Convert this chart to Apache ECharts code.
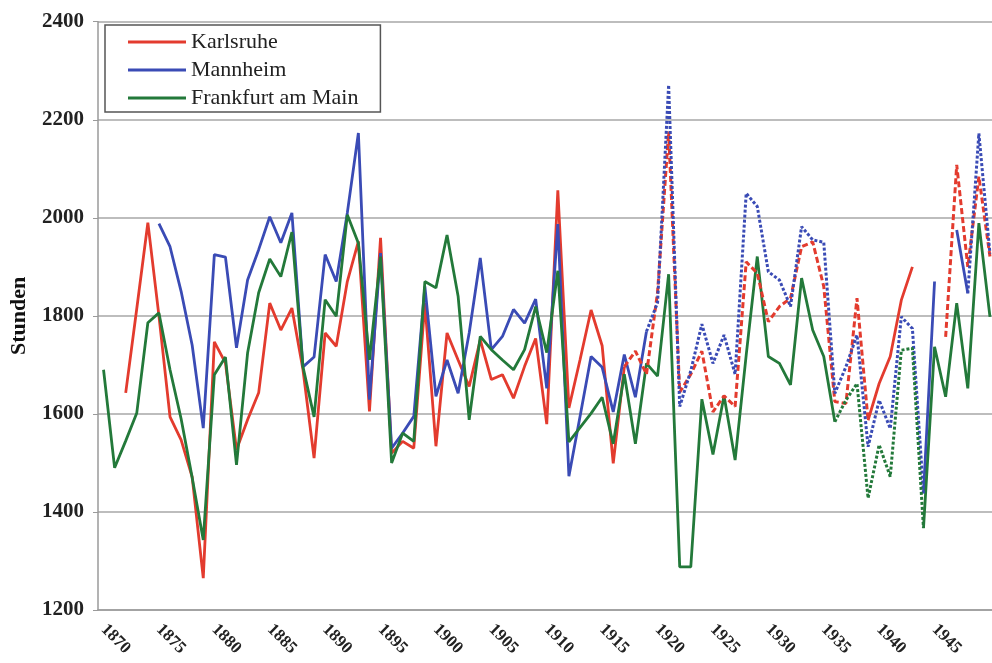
<!DOCTYPE html>
<html><head><meta charset="utf-8">
<script src="https://cdn.jsdelivr.net/npm/echarts@6/dist/echarts.min.js"></script>
<style>html,body{margin:0;padding:0;background:#fff}#c{width:992px;height:663px}</style>
</head><body><div id="c"></div>
<script>
const years = ['1870','1871','1872','1873','1874','1875','1876','1877','1878','1879',
'1880','1881','1882','1883','1884','1885','1886','1887','1888','1889',
'1890','1891','1892','1893','1894','1895','1896','1897','1898','1899',
'1900','1901','1902','1903','1904','1905','1906','1907','1908','1909',
'1910','1911','1912','1913','1914','1915','1916','1917','1918','1919',
'1920','1921','1922','1923','1924','1925','1926','1927','1928','1929',
'1930','1931','1932','1933','1934','1935','1936','1937','1938','1939',
'1940','1941','1942','1943','1944','1945','1946','1947','1948','1949','1950'];

const karlsruhe = [null,null,1643,1815,1990,1800,1594,1547,1471,1265,
1747,1704,1527,1588,1643,1826,1771,1816,1690,1510,
1765,1738,1870,1952,1605,1959,1520,1544,1530,1826,
1534,1765,1710,1656,1751,1670,1680,1632,1697,1754,
1579,2056,1612,1710,1812,1739,1499,1696,1728,1681,
1848,2176,1644,1681,1728,1604,1637,1615,1910,1887,
1788,1819,1836,1941,1951,1860,1625,1621,1836,1587,
1662,1717,1832,1900,null,null,1757,2108,1900,2084,1921];

const mannheim = [null,null,null,null,null,1988,1941,1850,1740,1571,
1925,1920,1735,1873,1935,2002,1949,2010,1696,1716,
1925,1870,2010,2173,1629,1928,1530,1561,1595,1860,
1636,1710,1642,1765,1918,1731,1758,1813,1785,1834,
1652,1987,1473,1594,1717,1695,1604,1721,1634,1768,
1827,2271,1615,1688,1783,1703,1761,1681,2050,2023,
1890,1873,1819,1982,1955,1950,1642,1696,1761,1533,
1628,1570,1798,1774,1438,1870,null,1975,1846,2172,1927];

const frankfurt = [1690,1490,1545,1602,1786,1806,1690,1590,1470,1343,
1680,1716,1496,1724,1847,1916,1880,1971,1696,1594,
1833,1799,2006,1948,1710,1921,1500,1561,1544,1870,
1857,1965,1840,1588,1758,1731,1710,1690,1731,1819,
1725,1892,1543,1572,1601,1634,1539,1681,1539,1703,
1677,1885,1288,1288,1630,1517,1637,1506,1720,1921,
1717,1703,1659,1877,1771,1717,1584,1628,1662,1428,
1537,1472,1730,1734,1367,1737,1635,1826,1652,1989,1798];

// year ranges drawn with broken lines
const karlsruheDashed = [[1917,1939],[1946,1950]];
const mannheimDashed = [[1919,1944],[1948,1950]];
const frankfurtDashed = [[1936,1944]];

const yTicks = {min:1200, max:2400, interval:200};

function split(vals, ranges){
  const solid = vals.map((v,i)=>{const y=+years[i];return ranges.some(r=>y>r[0]&&y<r[1])?null:v;});
  const dashed = vals.map((v,i)=>{const y=+years[i];return ranges.some(r=>y>=r[0]&&y<=r[1])?v:null;});
  return {solid, dashed};
}
const FONT = "'Liberation Serif','Times New Roman',serif";
const cities = [
  {name:'Karlsruhe', vals:karlsruhe, ranges:karlsruheDashed, color:'#e33b2e', dash:[6,3]},
  {name:'Mannheim', vals:mannheim, ranges:mannheimDashed, color:'#3a4bb5', dash:[3,2]},
  {name:'Frankfurt am Main', vals:frankfurt, ranges:frankfurtDashed, color:'#23793a', dash:[3,2]}
];
const series = [];
cities.forEach(c=>{
  const s = split(c.vals, c.ranges);
  series.push({name:c.name, type:'line', data:s.solid, symbol:'none', connectNulls:false,
    lineStyle:{color:c.color, width:2.8}, itemStyle:{color:c.color}});
});
cities.forEach(c=>{
  const s = split(c.vals, c.ranges);
  series.push({name:c.name, type:'line', data:s.dashed, symbol:'none', connectNulls:false,
    lineStyle:{color:c.color, width:3, type:c.dash}, itemStyle:{color:c.color}});
});

const chart = echarts.init(document.getElementById('c'), null, {renderer:'canvas'});
chart.setOption({
  animation:false,
  backgroundColor:'#ffffff',
  grid:{left:98, top:21.7, bottom:53, width:897.5, containLabel:false, outerBoundsMode:'none'},
  legend:{
    data:cities.map(c=>c.name), orient:'vertical', left:105, top:25,
    icon:'rect', itemWidth:58, itemHeight:3, itemGap:6,
    padding:[6,22,3,23], borderColor:'#555', borderWidth:1.5,
    textStyle:{fontFamily:FONT, fontSize:22, color:'#222', lineHeight:22},
    backgroundColor:'#fff'
  },
  xAxis:{
    type:'category', data:years, boundaryGap:true,
    axisLine:{lineStyle:{color:'#9a9a9a', width:1.5}},
    axisTick:{interval:4, length:5, lineStyle:{color:'#9a9a9a'}},
    axisLabel:{interval:(i)=>i%5===0 && i<80, rotate:-45, margin:17,
      fontFamily:FONT, fontWeight:'bold', fontSize:17, color:'#222'},
    splitLine:{show:false}
  },
  yAxis:{
    type:'value', min:yTicks.min, max:yTicks.max, interval:yTicks.interval,
    name:'Stunden', nameLocation:'middle', nameGap:68, nameRotate:90,
    nameTextStyle:{fontFamily:FONT, fontWeight:'bold', fontSize:22, color:'#111'},
    axisLine:{show:true, lineStyle:{color:'#9a9a9a', width:1.5}},
    axisTick:{show:true, length:5, lineStyle:{color:'#9a9a9a'}},
    axisLabel:{margin:14, formatter:(v)=>String(v), fontFamily:FONT, fontWeight:'bold', fontSize:21, color:'#222'},
    splitLine:{lineStyle:{color:'#bdbdbd', width:2}}
  },
  series:series
});
</script></body></html>
